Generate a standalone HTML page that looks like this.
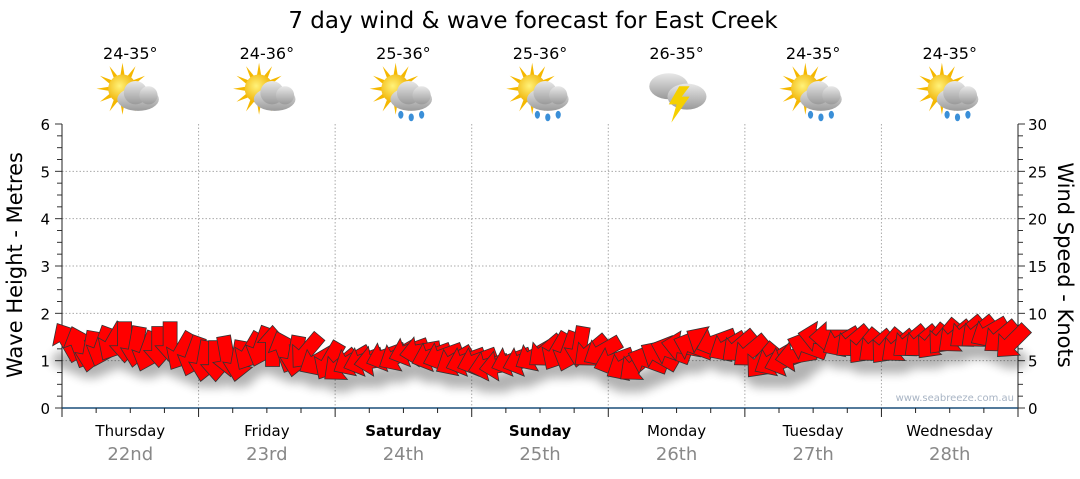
<!DOCTYPE html>
<html><head><meta charset="utf-8">
<style>
html,body{margin:0;padding:0;background:#fff;}
body{width:1080px;height:475px;overflow:hidden;font-family:"DejaVu Sans","Liberation Sans",sans-serif;}
</style></head>
<body>
<svg id="chart" width="1080" height="475" xmlns="http://www.w3.org/2000/svg" font-family="DejaVu Sans, Liberation Sans, sans-serif">
<defs>
<filter id="sh" x="-20%" y="-50%" width="140%" height="200%"><feGaussianBlur stdDeviation="5"/></filter>
<radialGradient id="sun" cx="0.4" cy="0.4" r="0.6"><stop offset="0" stop-color="#fff27a"/><stop offset="1" stop-color="#f0b000"/></radialGradient>
<linearGradient id="cloud" x1="0" y1="0" x2="0" y2="1"><stop offset="0" stop-color="#e8e8e8"/><stop offset="1" stop-color="#9a9a9a"/></linearGradient>
</defs>
<text x="533" y="28" font-size="23" text-anchor="middle" fill="#000">7 day wind &amp; wave forecast for East Creek</text>
<g id="grid"></g>
<g id="axes"></g>
<g id="icons"></g>
<g id="shadows" filter="url(#sh)" opacity="0.3"></g>
<g id="arrows"></g>
<text x="1014" y="401" font-size="10" fill="#a8b4c4" text-anchor="end">www.seabreeze.com.au</text>
<text transform="translate(22,265) rotate(-90)" font-size="21" text-anchor="middle">Wave Height - Metres</text>
<text transform="translate(1058,265) rotate(90)" font-size="21" text-anchor="middle">Wind Speed - Knots</text>
</svg>
<script>
const days = ["Thursday","Friday","Saturday","Sunday","Monday","Tuesday","Wednesday"];
const dates = ["22nd","23rd","24th","25th","26th","27th","28th"];
const boldDays = [false,false,true,true,false,false,false];
const temps = ["24-35°","24-36°","25-36°","25-36°","26-35°","24-35°","24-35°"];
const weather = ["partly","partly","shower","shower","storm","shower","shower"];
const leftTicks = [0,1,2,3,4,5,6];
const rightTicks = [0,5,10,15,20,25,30];
const windSpeed = [
7,6.5,6,6.5,7,7,6.5,6,6.5,7,6,5.5,
5,5,5.5,5,6,6.5,6.5,6,5.5,6,5,5,
4.5,5,5,5,5.5,5.5,6,6,5.5,5.5,5,5,
5,4.5,4.5,5,5,5.5,6,6,6,6.5,6,6,
5,4.5,4.5,5,5.5,6,6.5,6.5,7,7,6.5,6.5,
6,5,5,5,5.5,6.5,7.5,7.5,7,7,6.5,6.5,
6.5,6.5,7,7,7,7.5,7.5,8,8,8,7.5,7];
const windDir = [
240,250,100,110,120,90,100,110,90,90,120,110,
100,90,80,100,120,110,270,250,100,130,150,120,
140,150,160,170,160,150,160,170,160,160,150,160,
160,165,170,160,160,150,140,120,110,100,140,150,
160,150,140,200,210,200,190,200,210,160,150,140,
140,130,150,160,170,200,190,180,150,140,130,140,
130,140,140,140,130,130,140,140,140,150,140,135];

const NS="http://www.w3.org/2000/svg";
const X0=62,X1=1018,Y0=408,Y6=124,DW=(X1-X0)/7;
const yM=m=>Y0-(Y0-Y6)*m/6;
const yK=k=>Y0-(Y0-Y6)*k/30;
const xT=i=>X0+(i+0.5)*(X1-X0)/windSpeed.length;
function mk(t,a,p){const e=document.createElementNS(NS,t);for(const k in a)e.setAttribute(k,a[k]);(p||document.getElementById('chart')).appendChild(e);return e;}
const grid=document.getElementById('grid'),axes=document.getElementById('axes');
leftTicks.forEach(m=>{if(m>0&&m<6){const l=mk('line',{x1:X0,x2:X1,y1:yM(m),y2:yM(m),stroke:'#aaa','stroke-dasharray':'1.5,2'},grid);}
 const t=mk('text',{x:50,y:yM(m)+6,'font-size':15,'text-anchor':'end'},axes);t.textContent=m;});
for(let q=0;q<=24;q++){const y=yM(q/4);mk('line',{x1:q%4?57:55,x2:X0,y1:y,y2:y,stroke:'#333'},axes);mk('line',{x1:X1,x2:q%4?1023:1025,y1:y,y2:y,stroke:'#333'},axes);}
rightTicks.forEach(k=>{const t=mk('text',{x:1028,y:yK(k)+6,'font-size':15},axes);t.textContent=k;});
for(let d=1;d<7;d++){const l=mk('line',{x1:X0+d*DW,x2:X0+d*DW,y1:Y6,y2:Y0,stroke:'#aaa','stroke-dasharray':'1.5,2'},grid);}
mk('line',{x1:X0,x2:X0,y1:Y6,y2:Y0,stroke:'#222'},axes);
mk('line',{x1:X1,x2:X1,y1:Y6,y2:Y0,stroke:'#222'},axes);
mk('line',{x1:X0,x2:X1,y1:Y0,y2:Y0,stroke:'#1a4f7a','stroke-width':1.5},axes);
for(let q=0;q<=28;q++){const x=X0+q*DW/4;mk('line',{x1:x,x2:x,y1:Y0,y2:Y0+(q%4?5:9),stroke:'#222'},axes);}
const icons=document.getElementById('icons');
days.forEach((d,i)=>{const cx=X0+(i+0.5)*DW;
 let t=mk('text',{x:cx,y:436,'font-size':15,'text-anchor':'middle','font-weight':boldDays[i]?'bold':'normal'});t.textContent=d;
 t=mk('text',{x:cx,y:460,'font-size':18,'text-anchor':'middle',fill:'#888'});t.textContent=dates[i];
 t=mk('text',{x:cx,y:59,'font-size':16,'text-anchor':'middle'});t.textContent=temps[i];
 const g=mk('g',{transform:`translate(${cx},94) scale(1.3)`},icons);
 if(weather[i]!=='storm'){for(let r=0;r<12;r++){const a=r*Math.PI/6;mk('polygon',{points:`${-8*Math.cos(a)-6+2*Math.sin(a)},${-8*Math.sin(a)-4-2*Math.cos(a)} ${-8*Math.cos(a)-6-2*Math.sin(a)},${-8*Math.sin(a)-4+2*Math.cos(a)} ${-20*Math.cos(a)-6},${-20*Math.sin(a)-4}`,fill:'#f5b800'},g);}
  mk('circle',{cx:-6,cy:-4,r:11,fill:'url(#sun)'},g);
  mk('ellipse',{cx:6,cy:4,rx:16,ry:9,fill:'url(#cloud)'},g);mk('circle',{cx:4,cy:-1,r:9,fill:'url(#cloud)'},g);mk('circle',{cx:14,cy:1,r:7,fill:'url(#cloud)'},g);
  if(weather[i]==='shower'){[[-2,16],[6,18],[14,16]].forEach(p=>mk('ellipse',{cx:p[0],cy:p[1],rx:2,ry:3,fill:'#3a8fd8'},g));}
 } else {mk('ellipse',{cx:-6,cy:-6,rx:15,ry:10,fill:'url(#cloud)'},g);mk('ellipse',{cx:8,cy:2,rx:15,ry:10,fill:'url(#cloud)'},g);
  mk('polygon',{points:'2,-6 -6,8 0,8 -4,22 10,2 4,2 10,-6',fill:'#f5d000'},g);}
});
const sh=document.getElementById('shadows'),ar=document.getElementById('arrows');
windSpeed.forEach((k,i)=>{const x=xT(i),y=yK(k);
 mk('ellipse',{cx:x,cy:y+18,rx:16,ry:9,fill:'#000'},sh);
 const a=mk('polygon',{points:'-20,-7 4,-7 4,-15 21,0 4,15 4,7 -20,7',transform:`translate(${x},${y}) rotate(${windDir[i]})`,fill:'#ff0000',stroke:'#333','stroke-width':0.8},ar);
 
 
});
</script>
</body></html>
